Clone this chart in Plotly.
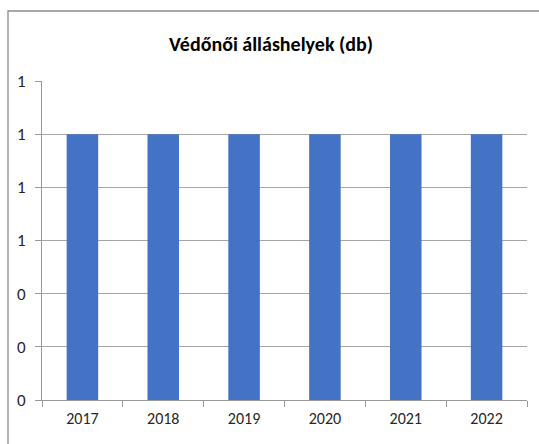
import plotly.graph_objects as go

years = ["2017", "2018", "2019", "2020", "2021", "2022"]
values = [1, 1, 1, 1, 1, 1]
y_ticks = [0, 0.2, 0.4, 0.6, 0.8, 1.0, 1.2]

W, H = 539, 444
L, R, T, B = 42, 12, 81, 44
pw, ph = W - L - R, H - T - B

def px_x(p):
    return (p - L) / pw

def px_y(p):
    return (H - B - p) / ph

fig = go.Figure(go.Bar(x=years, y=values, marker_color="#4472C4",
                       marker_line_width=0, width=0.39))

font = "Carlito, Lato, sans-serif"
fig.update_layout(
    width=W, height=H,
    margin=dict(l=L, r=R, t=T, b=B, autoexpand=False),
    paper_bgcolor="white", plot_bgcolor="white",
    font=dict(family=font, size=16, color="#262626"),
    title=dict(text="<b>Védőnői álláshelyek (db)</b>", x=271 / W, xanchor="center",
               xref="container", y=1 - 44 / H, yanchor="middle",
               font=dict(size=20, color="#000000", family=font)),
    showlegend=False,
    xaxis=dict(showline=True, linecolor="#999999", linewidth=1,
               ticks="outside", ticklen=6, tickcolor="#999999",
               tickson="boundaries", showgrid=False, automargin=False,
               ticklabelstandoff=4,
               tickfont=dict(size=16, color="#262626")),
    yaxis=dict(range=[0, 1.2], tickvals=y_ticks, tickformat=".0f",
               showline=True, linecolor="#999999", linewidth=1,
               ticks="outside", ticklen=6, tickcolor="#999999",
               showgrid=True, gridcolor="#a6a6a6", gridwidth=1,
               zeroline=False, automargin=False, ticklabelstandoff=6,
               tickfont=dict(size=17, color="#262626")),
    shapes=[dict(type="rect", xref="paper", yref="paper",
                 x0=px_x(8), x1=px_x(560), y0=px_y(470), y1=px_y(11),
                 line=dict(color="#8c8c8c", width=1.3), fillcolor="rgba(0,0,0,0)",
                 layer="below")],
)

fig.write_html("out.html", config={"displayModeBar": False},
               post_script="document.body.style.margin='0';document.body.style.overflow='hidden';")
